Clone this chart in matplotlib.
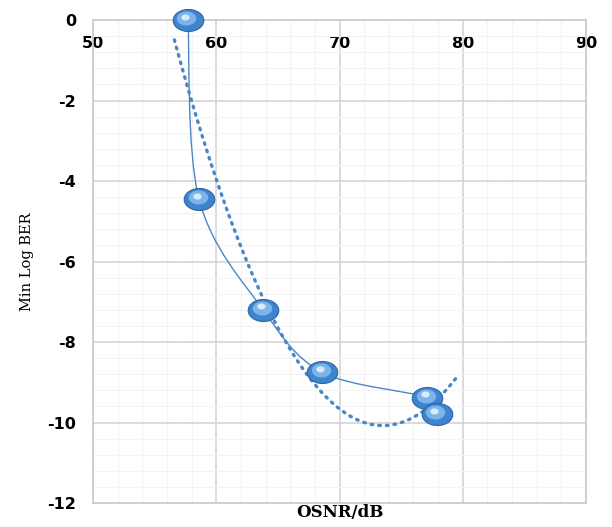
import numpy as np
import matplotlib
matplotlib.use("Agg")
import matplotlib.pyplot as plt
from matplotlib.path import Path
from matplotlib.patches import PathPatch
from matplotlib.transforms import offset_copy

plt.rcParams["axes.unicode_minus"] = False

# measured points
osnr = [57.7, 58.6, 63.8, 68.6, 77.1, 77.9]
min_log_ber = [0.0, -4.45, -7.2, -8.75, -9.38, -9.8]

x_ticks = [50, 60, 70, 80, 90]
y_ticks = [0, -2, -4, -6, -8, -10, -12]

# trendline range (forecast a little past the data)
trend_from, trend_to = 56.6, 79.6

line_blue = "#4a86c8"
grid_col = "#d4d4d4"


def smooth_path(xs, ys, k=1 / 6):
    # Bezier segments through every point, like a spreadsheet "smoothed line"
    pts = np.column_stack([xs, ys])
    n = len(pts)
    verts = [pts[0]]
    codes = [Path.MOVETO]
    for i in range(n - 1):
        p0 = pts[max(i - 1, 0)]
        p1 = pts[i]
        p2 = pts[i + 1]
        p3 = pts[min(i + 2, n - 1)]
        c1 = p1 + (p2 - p0) * k
        c2 = p2 - (p3 - p1) * k
        verts += [c1, c2, p2]
        codes += [Path.CURVE4] * 3
    return Path(verts, codes)


fig = plt.figure(figsize=(6.12, 5.27), dpi=100)
ax = fig.add_axes([0.152, 0.0455, 0.8055, 0.9165])

ax.set_xlim(50, 90)
ax.set_ylim(-12, 0)
ax.set_xticks(x_ticks)
ax.set_yticks(y_ticks)
ax.set_xticks(np.arange(50, 90.1, 2), minor=True)
ax.set_yticks(np.arange(-12, 0.01, 0.4), minor=True)

ax.grid(which="major", color=grid_col, lw=1.2, zorder=0)
ax.grid(which="minor", color="#f3f3f3", lw=0.8, zorder=0)
for s in ax.spines.values():
    s.set_color("#c9c9c9")
    s.set_linewidth(1.2)

ax.tick_params(axis="x", which="both", length=0, top=False, bottom=False,
               labeltop=True, labelbottom=False, pad=-22)
ax.tick_params(axis="y", which="both", length=0, pad=12)
for lab in ax.get_xticklabels() + ax.get_yticklabels():
    lab.set_fontfamily("DejaVu Sans")
    lab.set_fontweight("bold")
    lab.set_fontsize(11.5)

ax.set_ylabel("Min Log BER", family="DejaVu Serif", fontsize=10.5, labelpad=10)
ax.set_xlabel("OSNR/dB", family="DejaVu Serif", fontweight="bold", fontsize=12)
ax.xaxis.set_label_position("bottom")
ax.xaxis.labelpad = 1

# polynomial (order 2) trendline
coef = np.polyfit(osnr, min_log_ber, 2)
tx = np.linspace(trend_from, trend_to, 200)
ax.plot(tx, np.polyval(coef, tx), color=line_blue, lw=2.4,
        linestyle=(0, (0.5, 1.8)), dash_capstyle="round", zorder=3)

# smoothed series line
ax.add_patch(PathPatch(smooth_path(osnr, min_log_ber), fill=False,
                       edgecolor=line_blue, lw=1.0, zorder=4))

# glossy elliptical markers
t = np.linspace(0, 2 * np.pi, 60)
ellipse = np.column_stack([np.cos(t), 0.72 * np.sin(t)])
ax.plot(osnr, min_log_ber, linestyle="none", marker=ellipse, markersize=22,
        markerfacecolor="#3f84cf", markeredgecolor="#2d66a6",
        markeredgewidth=0.8, zorder=5, clip_on=False)
hl = offset_copy(ax.transData, fig=fig, x=-1.5, y=2.0, units="dots")
ax.plot(osnr, min_log_ber, linestyle="none", marker=ellipse, markersize=14,
        markerfacecolor="#8cc0ef", markeredgecolor="none", alpha=0.8,
        transform=hl, zorder=6, clip_on=False)
hl2 = offset_copy(ax.transData, fig=fig, x=-2.5, y=3.5, units="dots")
ax.plot(osnr, min_log_ber, linestyle="none", marker=ellipse, markersize=6,
        markerfacecolor="#e4f1fc", markeredgecolor="none", alpha=0.9,
        transform=hl2, zorder=7, clip_on=False)

fig.savefig("out.png", dpi=100)
